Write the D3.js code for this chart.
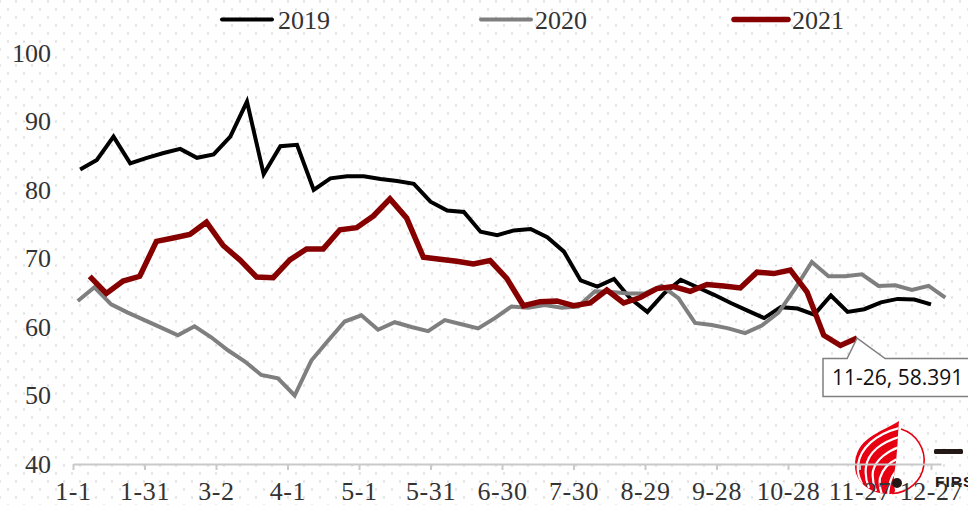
<!DOCTYPE html>
<html>
<head>
<meta charset="utf-8">
<script src="https://cdn.jsdelivr.net/npm/d3@7"></script>
<style>
  body { margin: 0; background: #fff; overflow: hidden; }
  text { font-family: "Liberation Serif", serif; fill: #333; }
</style>
</head>
<body>
<div id="chart"></div>
<script>
// weekly readings, day = days after 1-1 of the first reading
var firstDay2019 = 3, firstDay2020 = 2, firstDay2021 = 7;

var values2019 = [83.0, 84.4, 87.8, 83.9, 84.7, 85.4, 86.0, 84.7, 85.2, 87.8, 92.9, 82.3, 86.4,
    86.6, 80.0, 81.7, 82.0, 82.0, 81.6, 81.3, 80.9, 78.3, 77.0, 76.8, 73.9, 73.4, 74.1, 74.3,
    73.1, 71.0, 66.8, 65.9, 67.0, 64.1, 62.2, 64.9, 66.9, 65.8, 64.7, 63.5, 62.4, 61.3, 62.9,
    62.7, 61.8, 64.6, 62.2, 62.6, 63.6, 64.1, 64.0, 63.3];

var values2020 = [63.8, 65.8, 63.3, 62.1, 61.0, 59.9, 58.8, 60.1, 58.5, 56.6, 55.0, 53.0, 52.5,
    50.0, 55.1, 58.0, 60.8, 61.7, 59.6, 60.7, 60.0, 59.4, 61.0, 60.4, 59.8, 61.3, 63.0, 62.8,
    63.2, 62.8, 63.0, 65.2, 65.1, 64.9, 64.9, 66.0, 64.2, 60.6, 60.3, 59.8, 59.1, 60.2, 62.1,
    65.6, 69.5, 67.4, 67.4, 67.7, 66.0, 66.1, 65.4, 66.0, 64.3];

var values2021 = [67.4, 64.9, 66.7, 67.4, 72.5, 73.0, 73.5, 75.3, 71.9, 69.8, 67.3, 67.2, 69.8,
    71.4, 71.4, 74.2, 74.5, 76.2, 78.7, 75.9, 70.2, 69.9, 69.6, 69.2, 69.7, 67.1, 63.1, 63.7,
    63.8, 63.1, 63.5, 65.4, 63.5, 64.3, 65.6, 65.9, 65.2, 66.2, 66.0, 65.7, 68.0, 67.8, 68.3,
    65.1, 58.8, 57.3, 58.391];

var xLabels = ["1-1", "1-31", "3-2", "4-1", "5-1", "5-31", "6-30", "7-30", "8-29", "9-28", "10-28", "11-27", "12-27"];
var yTicks = [40, 50, 60, 70, 80, 90, 100];

var width = 968, height = 505;
var black = "#000000", grey = "#7f7f7f", red = "#860000";

var svg = d3.select("#chart").append("svg")
    .attr("width", width)
    .attr("height", height);

// dotted page background
var pattern = svg.append("defs").append("pattern")
    .attr("id", "dots")
    .attr("width", 16)
    .attr("height", 16)
    .attr("patternUnits", "userSpaceOnUse");
pattern.append("rect").attr("x", 15).attr("y", 0.5).attr("width", 2).attr("height", 2).attr("fill", "#dcdcdc");
pattern.append("rect").attr("x", -1).attr("y", 0.5).attr("width", 2).attr("height", 2).attr("fill", "#dcdcdc");
pattern.append("rect").attr("x", 7).attr("y", 8.5).attr("width", 2).attr("height", 2).attr("fill", "#dcdcdc");
svg.append("rect").attr("width", width).attr("height", height).attr("fill", "url(#dots)");

drawLogo();

var x = d3.scaleLinear().domain([0, 364.2]).range([73, 941]);
var y = d3.scaleLinear().domain([40, 100]).range([464, 53]);

var xAxis = svg.append("g")
    .attr("transform", "translate(0,464)")
    .call(d3.axisBottom(x)
        .tickValues(xLabels.map(function(d, i) { return i * 30; }))
        .tickFormat(function(d) { return xLabels[d / 30]; })
        .tickSizeInner(6)
        .tickSizeOuter(0)
        .tickPadding(12));
xAxis.selectAll("path, line").attr("stroke", "#c9c9c9").attr("stroke-width", 2);
xAxis.selectAll("text")
    .style("font-family", "Liberation Serif")
    .style("font-size", "26px")
    .style("letter-spacing", "0.6px")
    .attr("fill", "#333");

var yAxis = svg.append("g")
    .attr("transform", "translate(73,0)")
    .call(d3.axisLeft(y).tickValues(yTicks).tickSize(0).tickPadding(22));
yAxis.select(".domain").remove();
yAxis.selectAll("text")
    .style("font-family", "Liberation Serif")
    .style("font-size", "26px")
    .attr("fill", "#333");

function drawSeries(values, firstDay, color, lineWidth) {
    var line = d3.line()
        .x(function(d, i) { return x(firstDay + i * 7); })
        .y(function(d) { return y(d); });
    svg.append("path")
        .datum(values)
        .attr("d", line)
        .attr("fill", "none")
        .attr("stroke", color)
        .attr("stroke-width", lineWidth)
        .attr("stroke-linejoin", "miter");
}

drawSeries(values2019, firstDay2019, black, 4);
drawSeries(values2020, firstDay2020, grey, 4);
drawSeries(values2021, firstDay2021, red, 5.5);

// callout on the last 2021 reading
var lastDay = firstDay2021 + (values2021.length - 1) * 7;
var tipX = x(lastDay), tipY = y(values2021[values2021.length - 1]);
svg.append("path")
    .attr("d", "M823,358.5H" + (tipX - 10) + "L" + tipX + "," + tipY + "L" + (tipX + 28) + ",358.5H970V396.5H823Z")
    .attr("fill", "#fff")
    .attr("stroke", grey)
    .attr("stroke-width", 1.5);
svg.append("text")
    .attr("x", 832)
    .attr("y", 385)
    .style("font-family", "Open Sans")
    .style("font-size", "21px")
    .style("fill", "#111")
    .text("11-26, " + values2021[values2021.length - 1]);

// legend
var legendNames = ["2019", "2020", "2021"];
var legendColors = [black, grey, red];
var legendWidths = [4, 4, 5.5];
var legendLine = [[222, 272], [481, 531], [734, 788]];
var legendText = [278, 535, 792];
legendNames.forEach(function(name, i) {
    svg.append("line")
        .attr("x1", legendLine[i][0]).attr("x2", legendLine[i][1])
        .attr("y1", 19.5).attr("y2", 19.5)
        .attr("stroke", legendColors[i])
        .attr("stroke-width", legendWidths[i])
        .attr("stroke-linecap", "round");
    svg.append("text")
        .attr("x", legendText[i])
        .attr("y", 29)
        .style("font-size", "26px")
        .text(name);
});

function drawLogo() {
    var logo = svg.append("g");
    var logoRed = "#e60012";
    var clip = svg.select("defs").append("clipPath").attr("id", "flame");
    var flame = "M899,421C880,433 855,438 855,466C855,482 870,494 889,494C893,494 895,493 895,490"
        + "C892,478 896,468 897,450C898,440 898,430 899,421Z";
    clip.append("path").attr("d", flame);
    logo.append("path").attr("d", flame).attr("fill", logoRed);
    var stripes = [
        "M899,428C876,434 860,448 858,465C857,472 859,478 862,484",
        "M899,437C882,442 868,452 866,467C865,474 866,481 869,488",
        "M899,447C888,451 876,459 873,471C872,478 873,484 876,491",
        "M899,458C892,461 883,467 880,478C879,484 880,489 882,495",
        "M898,470C893,473 889,480 888,496"
    ];
    stripes.forEach(function(d) {
        logo.append("path")
            .attr("d", d)
            .attr("fill", "none")
            .attr("stroke", "#fff")
            .attr("stroke-width", 2.2)
            .attr("clip-path", "url(#flame)");
    });
    logo.append("path")
        .attr("d", "M901,429A33,33 0 0 1 892,493.5")
        .attr("fill", "none")
        .attr("stroke", logoRed)
        .attr("stroke-width", 1.6);
    logo.append("circle").attr("cx", 897).attr("cy", 483).attr("r", 5).attr("fill", "#231815");
    logo.append("rect").attr("x", 934).attr("y", 449).attr("width", 29).attr("height", 5).attr("rx", 1.5).attr("fill", "#231815");
    logo.append("text")
        .attr("x", 935)
        .attr("y", 487)
        .style("font-family", "Liberation Sans")
        .style("font-weight", "bold")
        .style("font-size", "15.5px")
        .style("letter-spacing", "1px")
        .style("fill", "#231815")
        .text("FIRS");
}
</script>
</body>
</html>
